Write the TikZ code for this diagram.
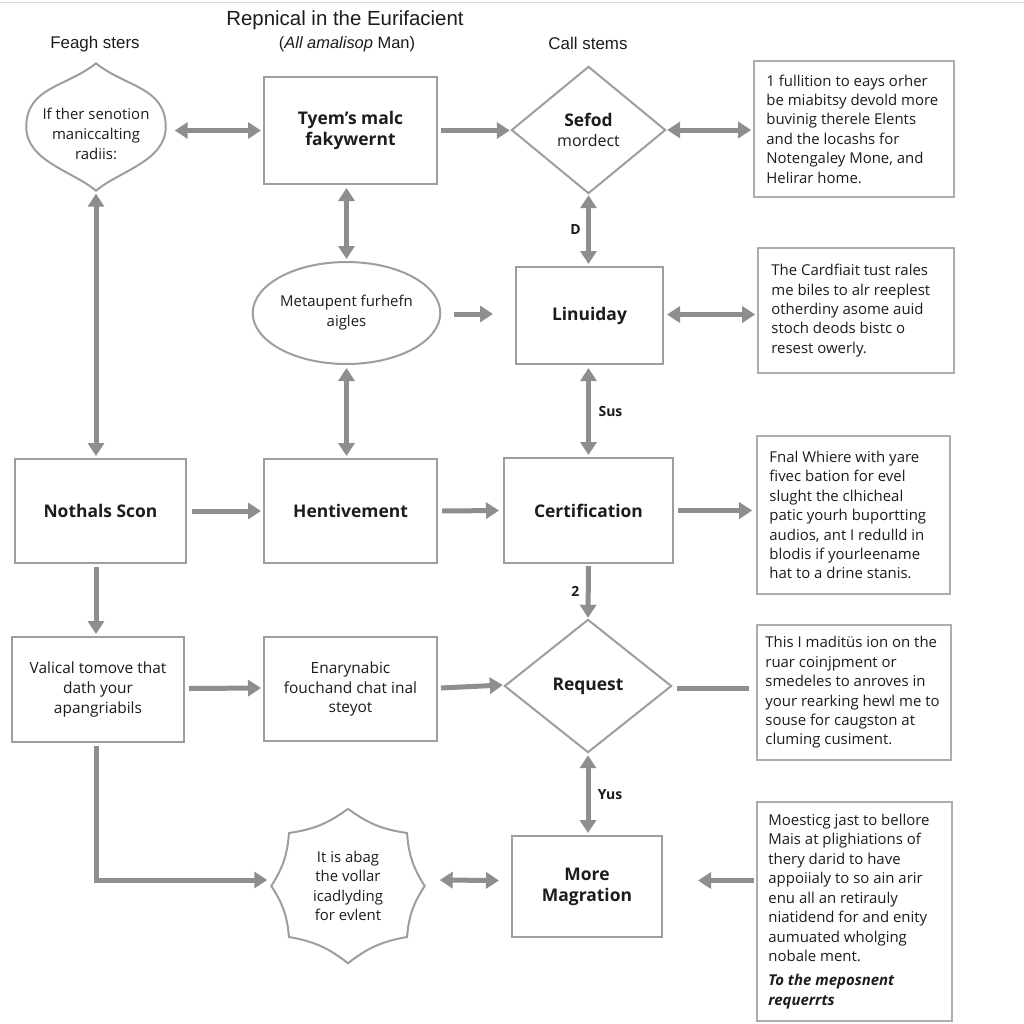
\documentclass[tikz,border=0pt]{standalone}
\usepackage{fontspec}
\setmainfont{Open Sans}
\newfontfamily\tfont{Liberation Sans}
\usetikzlibrary{arrows.meta,shapes.geometric,calc}
\definecolor{arrg}{HTML}{8E8E8E}
\definecolor{boxg}{HTML}{9E9E9E}
\definecolor{ink}{HTML}{1C1C1C}
\begin{document}
\begin{tikzpicture}[x=1bp,y=-1bp,
  every node/.style={text=ink, inner sep=0pt},
  shp/.style={draw=boxg, line width=2bp},
  boxn/.style={shp, rectangle, align=center},
  ghost/.style={rectangle, align=center},
  tbox/.style={draw=boxg!85, line width=1.6bp, rectangle},
  ttext/.style={align=left, anchor=west, font=\fontsize{15}{19.5}\selectfont},
  arr/.style={draw=arrg, line width=5bp, -{Triangle[length=13bp,width=16bp]}},
  darr/.style={draw=arrg, line width=5bp, {Triangle[length=13bp,width=16bp]}-{Triangle[length=13bp,width=16bp]}},
  plainline/.style={draw=arrg, line width=5bp},
  bl/.style={font=\fontsize{17.5}{21}\selectfont\bfseries},
  rl/.style={font=\fontsize{15.5}{20}\selectfont},
  lab/.style={font=\fontsize{14}{16}\selectfont\bfseries}
]
\useasboundingbox[fill=white] (0,0) rectangle (1024,1024);
\draw[gray!30, line width=1bp] (0,2) -- (1024,2);

% headings
\node[font=\tfont\fontsize{20.5}{22}\selectfont] (title) at (345,20) {Repnical in the Eurifacient};
\node[font=\tfont\fontsize{16.5}{18}\selectfont] (sub) at (347,44) {(\textit{All amalisop} Man)};
\node[font=\tfont\fontsize{17}{18}\selectfont] (h1) at (95,44) {Feagh sters};
\node[font=\tfont\fontsize{17}{18}\selectfont] (h2) at (588,43) {Call stems};

% row 1
\node[ghost, minimum width=139bp, minimum height=127bp] (A) at (96,127) {};
\node[align=center, font=\fontsize{15}{20}\selectfont] (At) at ($(A.center)+(0,7)$) {If ther senotion\\maniccalting\\radiis:};
\draw[shp] (A.north) .. controls ($(A.north)+(30,24)$) and ($(A.east)+(0,-40)$) .. (A.east)
  .. controls ($(A.east)+(0,34)$) and ($(A.south)+(24,-20)$) .. (A.south)
  .. controls ($(A.south)+(-24,-20)$) and ($(A.west)+(0,34)$) .. (A.west)
  .. controls ($(A.west)+(0,-40)$) and ($(A.north)+(-30,24)$) .. (A.north) -- cycle;
\node[boxn, minimum width=173bp, minimum height=107bp, bl] (B) at (350.5,130.5) {Tyem’s malc\\fakywernt};
\node[ghost, minimum width=153bp, minimum height=126bp, font=\fontsize{16}{20}\selectfont] (C) at (588.5,130) {{\bfseries\fontsize{17.5}{20}\selectfont Sefod}\\mordect};
\draw[shp] (C.north) -- (C.east) -- (C.south) -- (C.west) -- cycle;
\node[tbox, minimum width=200bp, minimum height=136bp] (D1) at (854,129) {};
\node[ttext] (T1) at ($(D1.west)+(13,0)$) {1 fullition to eays orher\\be miabitsy devold more\\buvinig therele Elents\\and the locashs for\\Notengaley Mone, and\\Helirar home.};

% row 2
\node[shp, ellipse, minimum width=167bp, minimum height=102bp, align=center, font=\fontsize{15}{20}\selectfont] (E) at (346.5,313) {Metaupent furhefn\\aigles};
\node[boxn, minimum width=147bp, minimum height=97bp, bl] (F) at (589.5,315.5) {Linuiday};
\node[tbox, minimum width=196bp, minimum height=125bp] (D2) at (856,310.5) {};
\node[ttext] (T2) at ($(D2.west)+(14,0)$) {The Cardfiait tust rales\\me biles to alr reeplest\\otherdiny asome auid\\stoch deods bistc o\\resest owerly.};

% row 3
\node[boxn, minimum width=171bp, minimum height=104bp, bl] (G) at (100.5,511) {Nothals Scon};
\node[boxn, minimum width=173bp, minimum height=104bp, bl] (H) at (350.5,511) {Hentivement};
\node[boxn, minimum width=169bp, minimum height=105bp, bl] (I) at (588.5,510.5) {Certification};
\node[tbox, minimum width=193bp, minimum height=158bp] (D3) at (853.5,515) {};
\node[ttext] (T3) at ($(D3.west)+(13,0)$) {Fnal Whiere with yare\\fivec bation for evel\\slught the clhicheal\\patic yourh buportting\\audios, ant I redulld in\\blodis if yourleename\\hat to a drine stanis.};

% row 4
\node[boxn, minimum width=172bp, minimum height=105bp, rl] (J) at (98,689.5) {Valical tomove that\\dath your\\apangriabils};
\node[boxn, minimum width=173bp, minimum height=104bp, rl] (K) at (350.5,689) {Enarynabic\\fouchand chat inal\\steyot};
\node[ghost, minimum width=166bp, minimum height=132bp, bl] (L) at (588,686) {Request};
\draw[shp] (L.north) -- (L.east) -- (L.south) -- (L.west) -- cycle;
\node[tbox, minimum width=194bp, minimum height=135bp] (D4) at (854,692.5) {};
\node[ttext] (T4) at ($(D4.west)+(9,0)$) {This I maditüs ion on the\\ruar coinjpment or\\smedeles to anroves in\\your rearking hewl me to\\souse for caugston at\\cluming cusiment.};

% row 5
\node[ghost, minimum width=153bp, minimum height=154bp, font=\fontsize{15}{19.5}\selectfont] (M) at (348,886) {It is abag\\the vollar\\icadlyding\\for evlent};
\draw[shp] (M.north) to[bend right=14] ($(M.center)+(59,-53)$) to[bend right=14] (M.east)
  to[bend right=14] ($(M.center)+(59,51)$) to[bend right=14] (M.south)
  to[bend right=14] ($(M.center)+(-59,51)$) to[bend right=14] (M.west)
  to[bend right=14] ($(M.center)+(-59,-53)$) to[bend right=14] (M.north);
\node[boxn, minimum width=150bp, minimum height=101bp, bl] (N) at (587,886.5) {More\\Magration};
\node[tbox, minimum width=195bp, minimum height=219bp] (D5) at (854.5,911.5) {};
\node[ttext] (T5) at ($(D5.west)+(12,0)$) {Moesticg jast to bellore\\Mais at plighiations of\\thery darid to have\\appoiialy to so ain arir\\enu all an retirauly\\niatidend for and enity\\aumuated wholging\\nobale ment.\\[5bp]{\bfseries\itshape To the meposnent}\\{\bfseries\itshape requerrts}};

% connectors
\draw[darr] ($(A.east |- B.west)+(9,0)$) -- ($(B.west)+(-2,0)$);
\draw[arr] ($(B.east)+(3,0)$) -- ($(C.west |- B.east)+(-2,0)$);
\draw[darr] ($(C.east)+(2,0)$) -- ($(D1.west |- C.east)+(-2,0)$);
\draw[darr] ($(C.south)+(0,2)$) -- ($(C.south |- F.north)+(0,-2)$) node[midway, lab, xshift=-13bp] (lD) {D};
\draw[darr] ($(E.north |- B.south)+(0,3)$) -- ($(E.north)+(0,-2)$);
\draw[arr] ($(E.east)+(13,1)$) -- ($(F.west |- E.east)+(-22,1)$);
\draw[darr] ($(F.east)+(3,-1)$) -- ($(D2.west |- F.east)+(-2,-1)$);
\draw[darr] ($(E.south)+(0,3)$) -- ($(E.south |- H.north)+(0,-2)$);
\draw[darr] ($(F.south -| C.south)+(0,3)$) -- ($(C.south |- I.north)+(0,-2)$) node[midway, lab, xshift=22bp] (lS) {Sus};
\draw[darr] ($(A.south)+(0,3)$) -- ($(A.south |- G.north)+(0,-2)$);
\draw[arr] ($(G.east)+(5,0)$) -- ($(H.west)+(-2,0)$);
\draw[arr] ($(H.east)+(4,0)$) -- ($(I.west)+(-4,0)$);
\draw[arr] ($(I.east)+(4,0)$) -- ($(D3.west |- I.east)+(-4,0)$);
\draw[arr] ($(C.south |- I.south)+(0,2)$) -- ($(L.north)+(0,-2)$) node[midway, lab, xshift=-13bp] (l2) {2};
\draw[arr] ($(A.south |- G.south)+(0,3)$) -- ($(A.south |- J.north)+(0,-2)$);
\draw[arr] ($(J.east)+(4,-1)$) -- ($(K.west)+(-2,-1)$);
\draw[arr] ($(K.east)+(3,-1)$) -- ($(L.west)+(-2,-1)$);
\draw[plainline] ($(L.east)+(6,2)$) -- ($(D4.west |- L.east)+(-7,2)$);
\draw[darr] ($(L.south)+(0,3)$) -- ($(L.south |- N.north)+(0,-2)$) node[midway, lab, xshift=22bp] (lY) {Yus};
\draw[arr] ($(A.south |- J.south)+(0,3)$) |- ($(M.west)+(-4,-6)$);
\draw[darr] ($(M.east)+(15,-6)$) -- ($(N.west)+(-12,-6)$);
\draw[arr] ($(D5.west |- N.east)+(-2,-6)$) -- ($(N.east)+(35,-6)$);
\end{tikzpicture}
\end{document}
